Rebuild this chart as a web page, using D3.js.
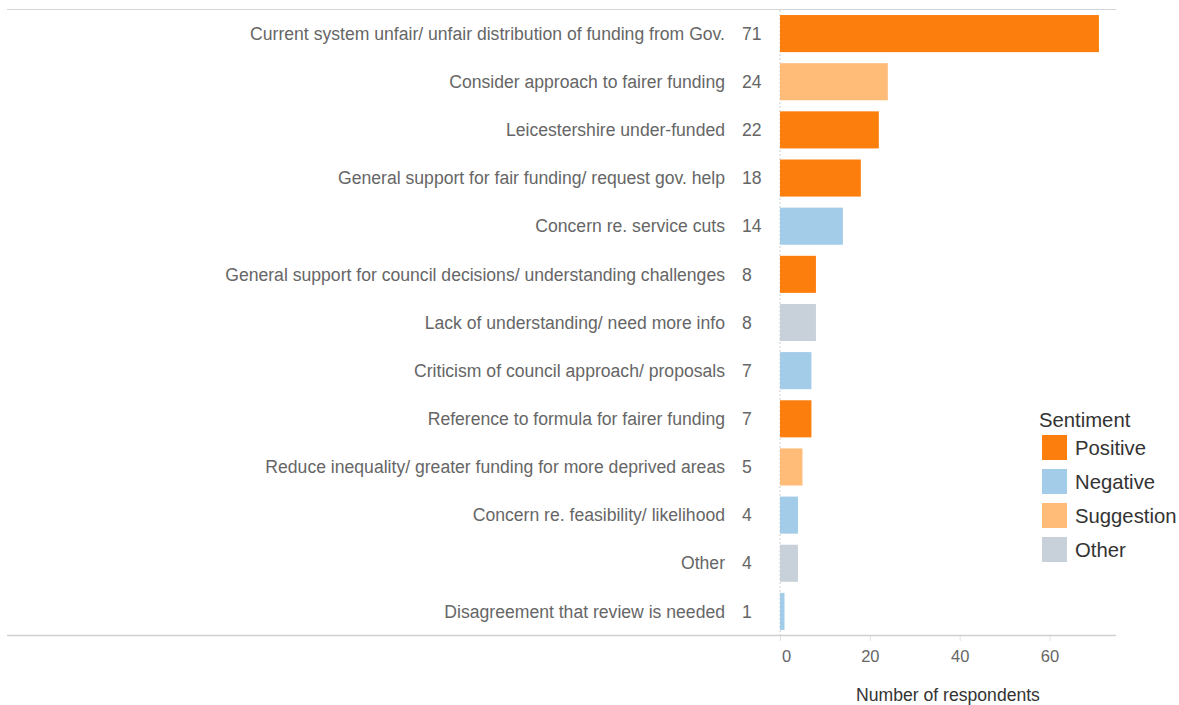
<!DOCTYPE html>
<html><head><meta charset="utf-8">
<script src="https://cdn.jsdelivr.net/npm/d3@7"></script>
<style>body{margin:0;background:#fff;font-family:"Liberation Sans",Arial,sans-serif;}</style>
</head><body><svg id="c" width="1179" height="705"></svg>
<script>
const categories = [
  "Current system unfair/ unfair distribution of funding from Gov.",
  "Consider approach to fairer funding",
  "Leicestershire under-funded",
  "General support for fair funding/ request gov. help",
  "Concern re. service cuts",
  "General support for council decisions/ understanding challenges",
  "Lack of understanding/ need more info",
  "Criticism of council approach/ proposals",
  "Reference to formula for fairer funding",
  "Reduce inequality/ greater funding for more deprived areas",
  "Concern re. feasibility/ likelihood",
  "Other",
  "Disagreement that review is needed"
];
const values = [71, 24, 22, 18, 14, 8, 8, 7, 7, 5, 4, 4, 1];
const sentiments = ["Positive","Suggestion","Positive","Positive","Negative","Positive","Other","Negative","Positive","Suggestion","Negative","Other","Negative"];
const legendKeys = ["Positive","Negative","Suggestion","Other"];
const legendColors = ["#fc7f0e","#a3cce9","#ffbb78","#c8d0d9"];
const xTicks = [0, 20, 40, 60];

const svg = d3.select("#c");
const color = d3.scaleOrdinal().domain(legendKeys).range(legendColors);
const x = d3.scaleLinear().domain([0, 74.8]).range([780, 1116]);
const y = d3.scaleBand().domain(categories).range([9.5, 635.5]).paddingInner(0.23).paddingOuter(0.115);

// frame lines
svg.append("line").attr("x1",7).attr("x2",1116).attr("y1",9.5).attr("y2",9.5).attr("stroke","#d4d4d4").attr("stroke-width",1);
svg.append("line").attr("x1",7).attr("x2",1116).attr("y1",635.5).attr("y2",635.5).attr("stroke","#d0d0d0").attr("stroke-width",1.5);
// zero line
svg.append("line").attr("x1",x(0)).attr("x2",x(0)).attr("y1",10).attr("y2",635).attr("stroke","#cfcfcf").attr("stroke-width",1).attr("stroke-dasharray","2,2");

// bars
svg.selectAll("rect.bar").data(categories).enter().append("rect")
  .attr("x", x(0)).attr("y", d=>y(d)).attr("height", y.bandwidth())
  .attr("width", (d,i)=>x(values[i])-x(0))
  .attr("fill", (d,i)=>color(sentiments[i]));

// category labels
svg.selectAll("text.cat").data(categories).enter().append("text")
  .attr("x",725).attr("y",d=>y(d)+y.bandwidth()/2).attr("dy","0.35em")
  .attr("text-anchor","end").attr("font-size",17.6).attr("fill","#666").text(d=>d);
// value labels
svg.selectAll("text.val").data(categories).enter().append("text")
  .attr("x",742).attr("y",d=>y(d)+y.bandwidth()/2).attr("dy","0.35em")
  .attr("font-size",17.6).attr("fill","#666").text((d,i)=>values[i]);

// x axis
const ax = svg.append("g").attr("transform","translate(0,636)")
  .call(d3.axisBottom(x).tickValues(xTicks).tickSize(5).tickPadding(9));
ax.select(".domain").remove();
ax.selectAll(".tick line").attr("stroke","#e0e0e0");
ax.selectAll(".tick text").attr("font-size",16.5).attr("fill","#666").attr("font-family","Liberation Sans, Arial, sans-serif")
  .attr("dx", d=>d===0?6:0);
svg.append("text").attr("x",948).attr("y",701).attr("text-anchor","middle").attr("font-size",17.6).attr("fill","#333").text("Number of respondents");

// legend
const lg = svg.append("g");
lg.append("text").attr("x",1039).attr("y",427).attr("font-size",20.3).attr("fill","#333").text("Sentiment");
legendKeys.forEach((k,i)=>{
  lg.append("rect").attr("x",1042).attr("y",435+i*34).attr("width",25).attr("height",25).attr("fill",color(k));
  lg.append("text").attr("x",1075).attr("y",447.5+i*34).attr("dy","0.35em").attr("font-size",20.3).attr("fill","#333").text(k);
});
</script></body></html>
